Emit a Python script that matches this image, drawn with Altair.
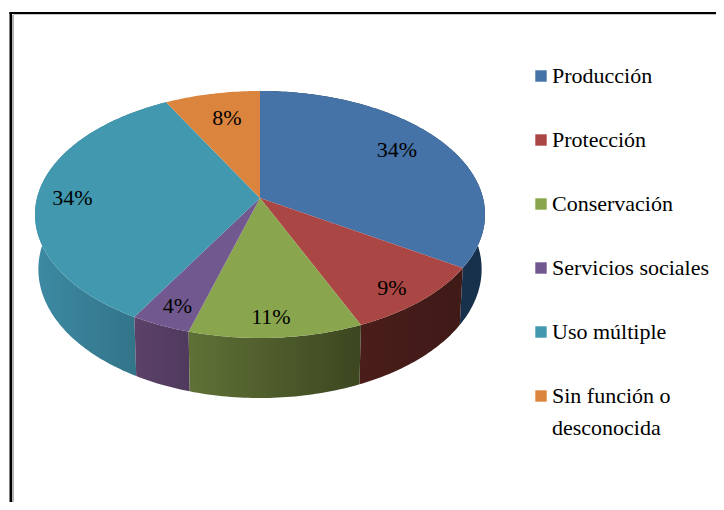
import math
import altair as alt
import pandas as pd

categories = ["Producción", "Protección", "Conservación", "Servicios sociales", "Uso múltiple", "Sin función o desconocida"]
shares = [34.0, 9.5, 11.0, 3.8, 33.9, 7.8]
labels = ["34%", "9%", "11%", "4%", "34%", "8%"]
label_bearing = [56.1, 140.8, 177.1, 203.0, 271.1, 347.6]
label_radius = [0.783, 0.853, 0.856, 0.85, 0.843, 0.761]
top_colors = ["#4572A7", "#AA4643", "#89A54E", "#71588F", "#4198AF", "#DB843D"]
wall_stops = [
    ["#1C3557", "#17304A"],
    ["#4A1D1A", "#3F1A17"],
    ["#5F7136", "#3C4620"],
    ["#5C4169", "#4F3A5D"],
    ["#3D8AA3", "#2F6D80"],
    ["#B06A30", "#8F5525"],
]

FONT = "Liberation Serif"
A, B, K = 223.0, 121.3, 0.1336


def rim(theta, r=1.0):
    x = r * math.sin(theta)
    y = r * math.cos(theta)
    w = 1 + K * y
    return A * x / w, -B * y / w


def lower(p):
    return p[0] * 0.985, p[1] * 1.043 + 54


edges = [0.0]
for s in shares:
    edges.append(edges[-1] + s)
edges = [e / edges[-1] * 2 * math.pi for e in edges]


def arc(t0, t1):
    n = max(2, int((t1 - t0) * 60))
    return [rim(t0 + (t1 - t0) * i / n) for i in range(n + 1)]


def feature(name, ring):
    ring = [list(p) for p in ring]
    ring.append(ring[0])
    return {"type": "Feature", "properties": {"name": name},
            "geometry": {"type": "Polygon", "coordinates": [ring]}}


def geo(features):
    return alt.InlineData(values={"type": "FeatureCollection", "features": features},
                          format=alt.DataFormat(property="features", type="json"))


projection = dict(type="identity", scale=1, translate=[252, 190])

layers = []
# frame
frame = pd.DataFrame({"k": [0]})
layers.append(alt.Chart(frame).mark_rule(color="#B4B4B4", strokeWidth=2).encode(x=alt.value(5), y=alt.value(7), y2=alt.value(494)))
layers.append(alt.Chart(frame).mark_rule(color="#C4C4C4", strokeWidth=1).encode(x=alt.value(5), x2=alt.value(708), y=alt.value(6.5)))
layers.append(alt.Chart(frame).mark_rule(color="#000000", strokeWidth=2.5).encode(x=alt.value(2.75), y=alt.value(4), y2=alt.value(494)))
layers.append(alt.Chart(frame).mark_rule(color="#000000", strokeWidth=2).encode(x=alt.value(1.5), x2=alt.value(708), y=alt.value(5)))

# side walls, back to front
for i in [0, 4, 1, 3, 2]:
    top = arc(edges[i], edges[i + 1])
    bottom = [lower(p) for p in top]
    ring = top + bottom[::-1]
    layers.append(
        alt.Chart(geo([feature(categories[i], ring)]))
        .mark_geoshape(
            stroke=None,
            fill=alt.Gradient(gradient="linear", x1=0, x2=1, y1=0, y2=0,
                              stops=[alt.GradientStop(color=wall_stops[i][0], offset=0),
                                     alt.GradientStop(color=wall_stops[i][1], offset=1)]),
        )
        .project(**projection)
    )

# top faces
faces = []
for i, name in enumerate(categories):
    faces.append(feature(name, [(0.0, 0.0)] + arc(edges[i], edges[i + 1])))

legend = alt.Legend(
    title=None,
    orient="none",
    legendX=522,
    legendY=57,
    symbolType="square",
    symbolSize=130,
    symbolStrokeWidth=0,
    labelFont=FONT,
    labelFontSize=22,
    labelColor="#000000",
    labelLimit=200,
    labelOffset=0,
    rowPadding=42,
    padding=0,
    labelExpr="datum.label == 'Sin función o desconocida' ? 'Sin función o' : datum.label",
)
layers.append(
    alt.Chart(geo(faces))
    .mark_geoshape(stroke=None)
    .encode(color=alt.Color("properties.name:N",
                            scale=alt.Scale(domain=categories, range=top_colors),
                            sort=categories, legend=legend))
    .project(**projection)
)

# percent labels
rows = []
for i, lab in enumerate(labels):
    px, py = rim(math.radians(label_bearing[i]), label_radius[i])
    rows.append({"lon": px, "lat": py, "label": lab})
layers.append(
    alt.Chart(pd.DataFrame(rows))
    .mark_text(font=FONT, fontSize=22, color="#000000", baseline="middle", align="center", dy=2)
    .encode(longitude="lon:Q", latitude="lat:Q", text="label:N")
    .project(**projection)
)

# second line of the last legend entry
layers.append(
    alt.Chart(pd.DataFrame({"label": ["desconocida"]}))
    .mark_text(font=FONT, fontSize=22, color="#000000", baseline="middle", align="left")
    .encode(x=alt.value(544), y=alt.value(420), text="label:N")
)

chart = alt.layer(*layers).properties(
    width=708, height=494, padding=0,
    autosize=alt.AutoSizeParams(type="none"),
    background="#FFFFFF",
).configure_view(stroke=None)

chart.save("out.html", embed_options={"renderer": "svg", "actions": False})
